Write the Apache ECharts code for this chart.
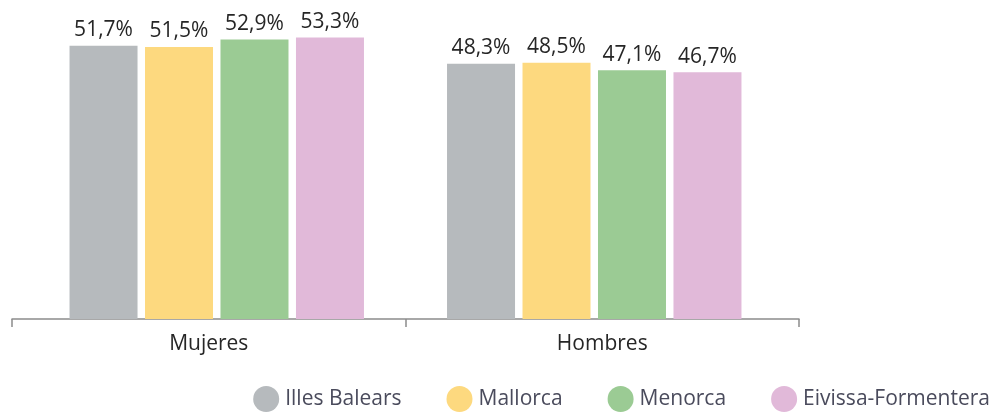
<!DOCTYPE html>
<html>
<head>
<meta charset="utf-8">
<script src="https://cdn.jsdelivr.net/npm/echarts@6/dist/echarts.min.js"></script>
<style>html,body{margin:0;padding:0;background:#fff;}#c{width:993px;height:414px;}</style>
</head>
<body>
<div id="c"></div>
<script>
const categories = ['Mujeres', 'Hombres'];
const seriesNames = ['Illes Balears', 'Mallorca', 'Menorca', 'Eivissa-Formentera'];
const illesBalears = [51.7, 48.3];
const mallorca = [51.5, 48.5];
const menorca = [52.9, 47.1];
const eivissaFormentera = [53.3, 46.7];
const colors = ['#b6babd', '#fdd97f', '#9bcb94', '#e1b9d9'];

const values = [illesBalears, mallorca, menorca, eivissaFormentera];
const FONT = '"Open Sans", sans-serif';

const chart = echarts.init(document.getElementById('c'));
chart.setOption({
  animation: false,
  textStyle: { fontFamily: FONT },
  grid: [
    { left: 28, right: 210, top: 2, bottom: 95 },
    { left: 12, right: 194, top: 2, bottom: 95 }
  ],
  xAxis: [
    { gridIndex: 0, type: 'category', data: categories, show: false },
    {
      gridIndex: 1, type: 'category', data: categories,
      axisLine: { lineStyle: { color: '#8c8c8c', width: 1.5 } },
      axisTick: { show: true, length: 8, lineStyle: { color: '#8c8c8c', width: 1.5 } },
      axisLabel: { fontSize: 21, color: '#262626', margin: 15, fontFamily: FONT }
    }
  ],
  yAxis: [
    { gridIndex: 0, type: 'value', min: 0, max: 60, show: false },
    { gridIndex: 1, type: 'value', min: 0, max: 60, show: false }
  ],
  legend: {
    right: 3, top: 386, padding: 0,
    icon: 'circle', itemWidth: 26, itemHeight: 26, itemGap: 45,
    textStyle: { fontSize: 21, color: '#4a4b5c', fontFamily: FONT, padding: [0, 0, 0, 1] },
    data: seriesNames
  },
  series: seriesNames.map((name, i) => ({
    name: name,
    type: 'bar',
    xAxisIndex: 0, yAxisIndex: 0,
    data: values[i],
    barWidth: 68,
    barGap: '11%',
    itemStyle: { color: colors[i] },
    label: {
      show: true, position: 'top', distance: 5,
      fontSize: 21, color: '#262626', fontFamily: FONT,
      formatter: p => p.value.toFixed(1).replace('.', ',') + '%'
    }
  }))
});
</script>
</body>
</html>
